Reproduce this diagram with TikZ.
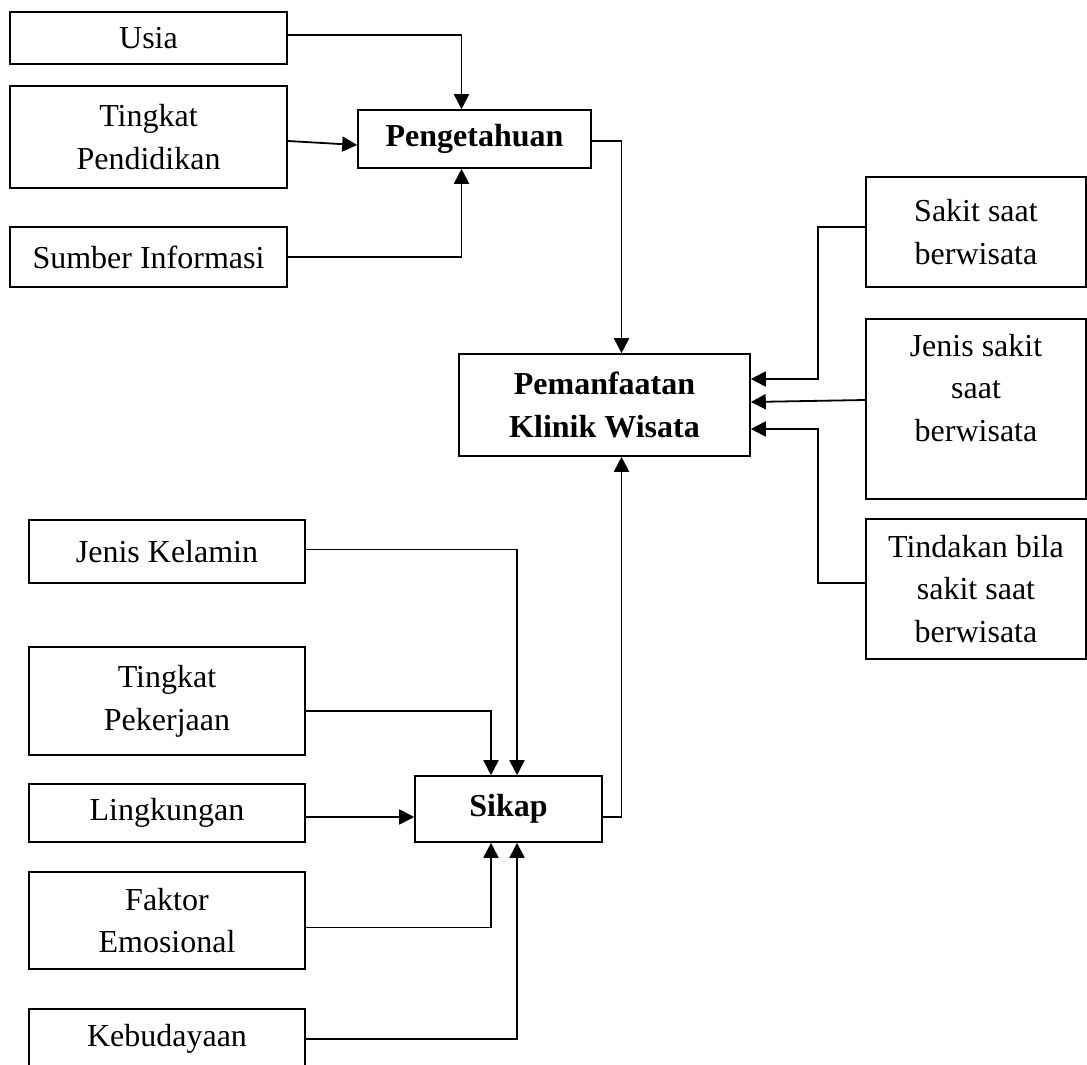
\documentclass[tikz,border=0pt]{standalone}
\usepackage{fontspec}
\setmainfont{Liberation Serif}
\usetikzlibrary{arrows.meta,calc}

\begin{document}
\begin{tikzpicture}[x=0.5pt,y=-0.5pt,
    box/.style={draw, line width=0.8pt, align=center, inner sep=0pt,
      font=\fontsize{16}{21.3}\selectfont},
    arr/.style={-{Triangle[length=7.5pt,width=7.5pt]}, line width=0.9pt}]
    \useasboundingbox (0,0) rectangle (1087,1065);
    \clip (0,0) rectangle (1087,1065);

    % Factors of knowledge
    \node[box, minimum width=138.5pt, minimum height=26pt] (usia) at (148.5,38) {Usia};
    \node[box, minimum width=138.5pt, minimum height=51pt] (pendidikan) at (148.5,137) {Tingkat\\Pendidikan};
    \node[box, minimum width=138.5pt, minimum height=30pt] (sumber) at (148.5,257) {Sumber Informasi};
    \node[box, minimum width=116.5pt, minimum height=29pt, font=\fontsize{16}{21.3}\selectfont\bfseries] (pengetahuan) at (474.5,139) {Pengetahuan};

    % Centre
    \node[box, minimum width=145.5pt, minimum height=51pt, font=\fontsize{16}{21.3}\selectfont\bfseries] (pemanfaatan) at (604.5,405) {Pemanfaatan\\Klinik Wisata};

    % Right side
    \node[box, minimum width=110pt, minimum height=55pt] (sakit) at (976,232) {Sakit saat\\berwisata};
    \node[box, minimum width=110pt, minimum height=90pt] (jenissakit) at (976,409) {Jenis sakit\\saat\\berwisata\\\mbox{}};
    \node[box, minimum width=110pt, minimum height=70pt] (tindakan) at (976,589) {Tindakan bila\\sakit saat\\berwisata};

    % Factors of attitude
    \node[box, minimum width=138pt, minimum height=31.5pt] (kelamin) at (167,551.5) {Jenis Kelamin};
    \node[box, minimum width=138pt, minimum height=54pt] (pekerjaan) at (167,701) {Tingkat\\Pekerjaan};
    \node[box, minimum width=138pt, minimum height=29pt] (lingkungan) at (167,813) {Lingkungan};
    \node[box, minimum width=138pt, minimum height=48.5pt] (emosional) at (167,920.5) {Faktor\\Emosional};
    \node[box, minimum width=138pt, minimum height=30pt] (kebudayaan) at (167,1039) {Kebudayaan};
    \node[box, minimum width=93.5pt, minimum height=33pt, font=\fontsize{16}{21.3}\selectfont\bfseries] (sikap) at (508.5,809) {Sikap};

    % Arrows to Pengetahuan
    \draw[arr] ($(usia.east)+(0,-3)$) -| ($(pengetahuan.north)+(-13,0)$);
    \draw[arr] ($(pendidikan.east)+(0,4)$) -- ($(pengetahuan.west)+(0,6)$);
    \draw[arr] (sumber.east) -| ($(pengetahuan.south)+(-13,0)$);

    % Arrows to Pemanfaatan
    \draw[arr] ($(pengetahuan.east)+(0,2)$) -| ($(pemanfaatan.north)+(17,0)$);
    \draw[arr] ($(sikap.east)+(0,8)$) -| ($(pemanfaatan.south)+(17,0)$);
    \draw[arr] ($(sakit.west)+(0,-5)$) -- ++(-47,0) |- ($(pemanfaatan.east)+(0,-26)$);
    \draw[arr] ($(jenissakit.west)+(0,-9)$) -- ($(pemanfaatan.east)+(0,-3)$);
    \draw[arr] ($(tindakan.west)+(0,-6)$) -- ++(-47,0) |- ($(pemanfaatan.east)+(0,24)$);

    % Arrows to Sikap
    \draw[arr] ($(kelamin.east)+(0,-2)$) -| ($(sikap.north)+(8.5,0)$);
    \draw[arr] ($(pekerjaan.east)+(0,10)$) -| ($(sikap.north)+(-17.5,0)$);
    \draw[arr] ($(lingkungan.east)+(0,4)$) -- ($(sikap.west)+(0,8)$);
    \draw[arr] ($(emosional.east)+(0,7)$) -| ($(sikap.south)+(-17.5,0)$);
    \draw[arr] (kebudayaan.east) -| ($(sikap.south)+(8.5,0)$);

\end{tikzpicture}
\end{document}
